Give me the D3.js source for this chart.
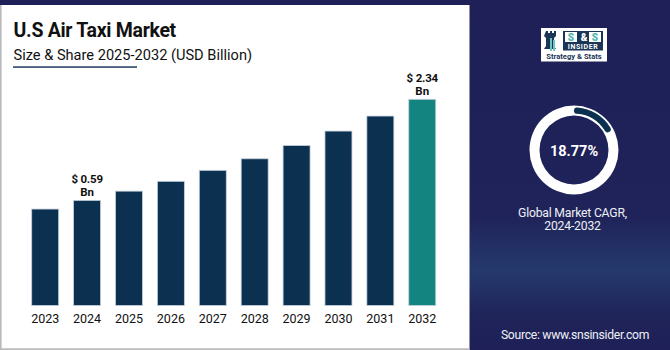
<!DOCTYPE html>
<html>
<head>
<meta charset="utf-8">
<script src="https://cdn.jsdelivr.net/npm/d3@7"></script>
<style>
  body { margin: 0; background: #1e2057; }
  svg { display: block; font-family: Roboto, "Noto Sans", sans-serif; }
</style>
</head>
<body>
<svg id="chart" width="670" height="350"></svg>
<script>
// data ------------------
const years = ['2023', '2024', '2025', '2026', '2027', '2028', '2029', '2030', '2031', '2032']
const values = [0.44, 0.59, 0.75, 0.92, 1.11, 1.31, 1.54, 1.79, 2.05, 2.34]
const labelled = { '2024': '$ 0.59', '2032': '$ 2.34' }
const cagr = 18.77

const title = 'U.S Air Taxi Market'
const subtitle = 'Size & Share 2025-2032 (USD Billion)'
const cagrLines = ['Global Market CAGR,', '2024-2032']
const source = 'Source: www.snsinsider.com'

const colours = {
    navy: '#1e2057',
    bar: '#0c3150',
    last: '#13847f',
    text: '#111111'
}

const rows = years.map((y, i) => ({ year: y, value: values[i] }))
const svg = d3.select('#chart')

// background, gradient band on the right
const defs = svg.append('defs')
const grad = defs.append('linearGradient')
    .attr('id', 'bg').attr('x1', 0).attr('y1', 0).attr('x2', 0).attr('y2', 1)
grad.selectAll('stop')
    .data([[0, '#1e2057'], [0.62, '#1f2359'], [0.77, '#25396d'], [0.9, '#1f2459'], [1, '#1e2057']])
    .join('stop')
    .attr('offset', d => d[0])
    .attr('stop-color', d => d[1])

svg.append('rect').attr('width', 670).attr('height', 350).attr('fill', 'url(#bg)')

// white panel
svg.append('rect')
    .attr('x', 0).attr('y', 5).attr('width', 469.5).attr('height', 345)
    .attr('fill', '#ffffff')
svg.append('rect')
    .attr('x', 0).attr('y', 5).attr('width', 1.6).attr('height', 345)
    .attr('fill', '#b9b9b9')
svg.append('rect')
    .attr('x', 0).attr('y', 348.3).attr('width', 469.5).attr('height', 1.7)
    .attr('fill', '#b9b9b9')

// titles
svg.append('text')
    .attr('x', 13.5).attr('y', 37)
    .attr('font-size', 19.5).attr('font-weight', 700)
    .attr('letter-spacing', -0.3)
    .attr('fill', colours.text)
    .text(title)

svg.append('text')
    .attr('x', 13.5).attr('y', 59.5)
    .attr('font-size', 14.6).attr('fill', colours.text)
    .text(subtitle)

svg.append('rect')
    .attr('x', 13).attr('y', 66.3).attr('width', 124).attr('height', 1.5)
    .attr('fill', '#1f3b5e')

// scales
const xScale = d3.scaleBand()
    .domain(years)
    .range([10.75, 456.7])
    .paddingInner(0.356)
    .paddingOuter(0.5)

const yScale = d3.scaleLinear()
    .domain([-1.23, 2.34])
    .range([305.5, 99.3])

const baseY = yScale(yScale.domain()[0])

// bars
svg.append('g')
    .selectAll('rect.bar')
    .data(rows)
    .join('rect')
    .attr('class', 'bar')
    .attr('x', d => xScale(d.year))
    .attr('y', d => yScale(d.value))
    .attr('width', xScale.bandwidth())
    .attr('height', d => baseY - yScale(d.value))
    .attr('fill', (d, i) => i == rows.length - 1 ? colours.last : colours.bar)
    .attr('stroke', '#c4d0dc')
    .attr('stroke-width', 0.8)

// x axis labels
const xAxis = d3.axisBottom(xScale).tickSize(0).tickPadding(0)
const axisG = svg.append('g')
    .attr('transform', 'translate(0,' + baseY + ')')
    .call(xAxis)
axisG.select('.domain').remove()
axisG.selectAll('text')
    .attr('y', 17)
    .attr('dy', 0)
    .attr('font-size', 12.5)
    .attr('font-family', 'Roboto, sans-serif')
    .attr('fill', colours.text)

// value labels
const labRows = rows.filter(d => labelled[d.year])
const labG = svg.append('g')
    .selectAll('g.value-label')
    .data(labRows)
    .join('g')
    .attr('class', 'value-label')
    .attr('transform', d => 'translate(' + (xScale(d.year) + xScale.bandwidth() / 2) + ',' + yScale(d.value) + ')')

labG.append('text')
    .attr('y', -17.2)
    .attr('text-anchor', 'middle')
    .attr('font-size', 11.5).attr('font-weight', 700)
    .attr('letter-spacing', -0.2)
    .attr('fill', colours.text)
    .text(d => labelled[d.year])

labG.append('text')
    .attr('y', -4.2)
    .attr('text-anchor', 'middle')
    .attr('font-size', 11.5).attr('font-weight', 700)
    .attr('fill', colours.text)
    .text('Bn')

// logo
const logo = svg.append('g').attr('transform', 'translate(541,28)')
logo.append('rect').attr('width', 66).attr('height', 33.5).attr('fill', '#ffffff')
// rook
logo.append('path')
    .attr('d', 'M5,3 h2 v2 h2 v-2 h2 v2 h2 v-2 h2 v5 l-2,2 v8 l2,3 h-12 l2,-3 v-8 l-2,-2 z')
    .attr('fill', '#1a3556')
logo.append('path')
    .attr('d', 'M9,10 h2 v13 h-2 z M12,12 h2 v11 h-2 z')
    .attr('fill', '#6fc6c0')
logo.append('rect').attr('x', 22).attr('y', 3).attr('width', 40).attr('height', 19.5).attr('fill', '#1a3556')
logo.selectAll('rect.sbox')
    .data([24, 48])
    .join('rect')
    .attr('class', 'sbox')
    .attr('x', d => d).attr('y', 4).attr('width', 12).attr('height', 10)
    .attr('fill', '#ffffff')
logo.selectAll('text.s')
    .data([[30, 'S', '#4fb9b1'], [43, '&', '#ffffff'], [54, 'S', '#4fb9b1']])
    .join('text')
    .attr('class', 's')
    .attr('x', d => d[0]).attr('y', 13)
    .attr('text-anchor', 'middle')
    .attr('font-size', 10).attr('font-weight', 900)
    .attr('fill', d => d[2])
    .text(d => d[1])
logo.append('text')
    .attr('x', 42).attr('y', 21.3)
    .attr('text-anchor', 'middle')
    .attr('font-size', 7).attr('font-weight', 700)
    .attr('letter-spacing', 0.6)
    .attr('fill', '#ffffff')
    .text('INSIDER')
logo.append('text')
    .attr('x', 33).attr('y', 30.5)
    .attr('text-anchor', 'middle')
    .attr('font-size', 7.6).attr('font-weight', 700)
    .attr('fill', '#1a3556')
    .text('Strategy & Stats')

// donut
const cx = 574, cy = 150
const donut = svg.append('g').attr('transform', 'translate(' + cx + ',' + cy + ')')
donut.append('path')
    .attr('d', d3.arc()({ innerRadius: 34.5, outerRadius: 44.5, startAngle: 0, endAngle: 2 * Math.PI }))
    .attr('fill', '#ffffff')
donut.append('path')
    .attr('d', d3.arc().cornerRadius(3.2)({ innerRadius: 36.3, outerRadius: 42.7, startAngle: 0, endAngle: cagr / 100 * 2 * Math.PI * 0.93 }))
    .attr('fill', colours.bar)
donut.append('text')
    .attr('y', 5.5)
    .attr('text-anchor', 'middle')
    .attr('font-size', 14.5).attr('font-weight', 700)
    .attr('fill', '#ffffff')
    .text(cagr.toFixed(2) + '%')

svg.append('g')
    .selectAll('text')
    .data(cagrLines)
    .join('text')
    .attr('x', 572.5)
    .attr('y', (d, i) => 216.5 + i * 13.6)
    .attr('text-anchor', 'middle')
    .attr('font-size', 12.2)
    .attr('letter-spacing', -0.2)
    .attr('fill', '#eef0f6')
    .text(d => d)

svg.append('text')
    .attr('x', 575).attr('y', 338.5)
    .attr('text-anchor', 'middle')
    .attr('font-size', 12.2)
    .attr('letter-spacing', -0.3)
    .attr('fill', '#eef0f6')
    .text(source)
</script>
</body>
</html>
